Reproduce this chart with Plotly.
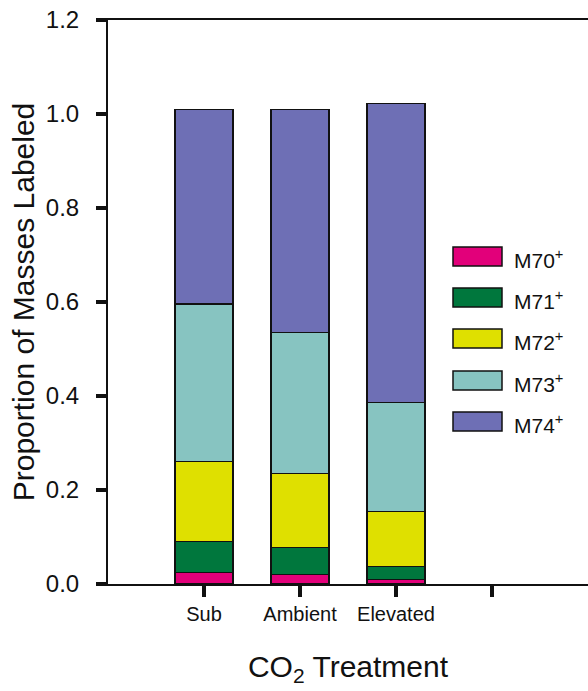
import plotly.graph_objects as go

categories = ["Sub", "Ambient", "Elevated"]
tick_labels = ["Sub", "Ambient", "Elevated", ""]
series_names = ["M70<sup>+</sup>", "M71<sup>+</sup>", "M72<sup>+</sup>", "M73<sup>+</sup>", "M74<sup>+</sup>"]
m70 = [0.024, 0.020, 0.010]
m71 = [0.066, 0.058, 0.027]
m72 = [0.171, 0.157, 0.117]
m73 = [0.335, 0.300, 0.232]
m74 = [0.414, 0.475, 0.636]
series_values = [m70, m71, m72, m73, m74]
colors = ["#E2007A", "#00773D", "#DFE000", "#87C4C1", "#6E6FB5"]

FONT = "Liberation Sans, Arial, sans-serif"

fig = go.Figure()
xpos = list(range(len(categories)))
for name, vals, col in zip(series_names, series_values, colors):
    fig.add_trace(go.Bar(
        x=xpos, y=vals, name=name, width=0.6,
        marker=dict(color=col, line=dict(color="#111111", width=1.5)),
        showlegend=False,
    ))

# custom legend (boxes + labels) in pixel-like paper coordinates
W, H = 588, 691
ml, mr, mt, mb = 108, 0, 20, 107
pw, ph = W - ml - mr, H - mt - mb
def px(x):
    return (x - ml) / pw
def py(y):
    return (H - mb - y) / ph
leg_top = [247, 288, 329, 371, 412]
for name, col, t in zip(series_names, colors, leg_top):
    fig.add_shape(type="rect", xref="paper", yref="paper",
                  x0=px(453), x1=px(502), y0=py(t + 19), y1=py(t),
                  fillcolor=col, line=dict(color="#111111", width=1.5))
    fig.add_annotation(xref="paper", yref="paper", x=px(512), y=py(t + 12),
                       text=name, showarrow=False, xanchor="left", yanchor="middle",
                       font=dict(family=FONT, size=21, color="#111111"))

fig.update_layout(
    barmode="stack",
    width=W, height=H,
    margin=dict(l=ml, r=mr, t=mt, b=mb),
    paper_bgcolor="white", plot_bgcolor="white",
    font=dict(family=FONT, color="#111111"),
    xaxis=dict(
        range=[-1, 4], tickmode="array", tickvals=[0, 1, 2, 3], ticktext=tick_labels,
        showline=True, linecolor="#111111", linewidth=2, mirror=True,
        ticks="outside", ticklen=11, tickwidth=4, tickcolor="#111111",
        tickfont=dict(size=20, family=FONT), showgrid=False, zeroline=False,
        title=dict(text="CO<sub>2</sub> Treatment", font=dict(size=30, family=FONT), standoff=32),
    ),
    yaxis=dict(
        range=[0, 1.2], tickmode="array", tickvals=[0, 0.2, 0.4, 0.6, 0.8, 1.0, 1.2],
        ticktext=["0.0", "0.2", "0.4", "0.6", "0.8", "1.0", "1.2"],
        showline=True, linecolor="#111111", linewidth=2, mirror=False,
        ticks="outside", ticklen=10, tickwidth=4, tickcolor="#111111",
        tickfont=dict(size=24, family=FONT), showgrid=False, zeroline=False,
        ticklabelstandoff=12,
        title=dict(text="Proportion of Masses Labeled", font=dict(size=30, family=FONT), standoff=2),
    ),
)

fig.write_html("out.html")
